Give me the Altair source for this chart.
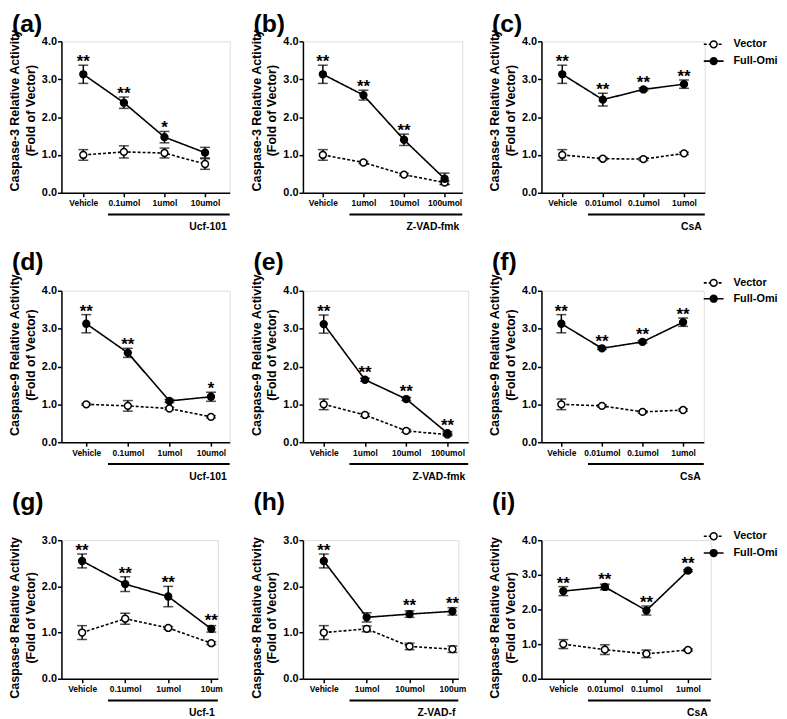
import altair as alt
import pandas as pd

SERIES = ["Vector", "Full-Omi"]
PANEL_LABELS = ["(a)", "(b)", "(c)", "(d)", "(e)", "(f)", "(g)", "(h)", "(i)"]
Y_TITLES = ["Caspase-3 Relative Activity", "Caspase-9 Relative Activity", "Caspase-8 Relative Activity"]
Y_SUB = "(Fold of Vector)"
DRUGS = ["Ucf-101", "Z-VAD-fmk", "CsA", "Ucf-101", "Z-VAD-fmk", "CsA", "Ucf-1", "Z-VAD-f", "CsA"]
Y_TICKS_4 = [0, 1, 2, 3, 4]
Y_TICKS_3 = [0, 1, 2, 3]

# (a) Caspase-3, Ucf-101
cats_a = ["Vehicle", "0.1umol", "1umol", "10umol"]
full_a = [3.13, 2.38, 1.47, 1.06]
full_err_a = [0.24, 0.15, 0.15, 0.14]
vec_a = [1.00, 1.08, 1.05, 0.76]
vec_err_a = [0.14, 0.16, 0.13, 0.14]
stars_a = ["**", "**", "*", ""]

# (b) Caspase-3, Z-VAD-fmk
cats_b = ["Vehicle", "1umol", "10umol", "100umol"]
full_b = [3.13, 2.58, 1.40, 0.37]
full_err_b = [0.24, 0.13, 0.15, 0.15]
vec_b = [1.00, 0.80, 0.48, 0.27]
vec_err_b = [0.14, 0.03, 0.03, 0.05]
stars_b = ["**", "**", "**", ""]

# (c) Caspase-3, CsA
cats_c = ["Vehicle", "0.01umol", "0.1umol", "1umol"]
full_c = [3.13, 2.46, 2.73, 2.87]
full_err_c = [0.24, 0.17, 0.04, 0.11]
vec_c = [1.00, 0.90, 0.89, 1.04]
vec_err_c = [0.14, 0.03, 0.04, 0.03]
stars_c = ["**", "**", "**", "**"]

# (d) Caspase-9, Ucf-101
cats_d = ["Vehicle", "0.1umol", "1umol", "10umol"]
full_d = [3.13, 2.36, 1.09, 1.20]
full_err_d = [0.24, 0.12, 0.04, 0.12]
vec_d = [1.00, 0.96, 0.89, 0.67]
vec_err_d = [0.02, 0.14, 0.03, 0.03]
stars_d = ["**", "**", "", "*"]

# (e) Caspase-9, Z-VAD-fmk
cats_e = ["Vehicle", "1umol", "10umol", "100umol"]
full_e = [3.12, 1.65, 1.14, 0.24]
full_err_e = [0.24, 0.04, 0.04, 0.04]
vec_e = [1.00, 0.72, 0.30, 0.20]
vec_err_e = [0.14, 0.04, 0.04, 0.03]
stars_e = ["**", "**", "**", "**"]

# (f) Caspase-9, CsA
cats_f = ["Vehicle", "0.01umol", "0.1umol", "1umol"]
full_f = [3.13, 2.48, 2.65, 3.17]
full_err_f = [0.24, 0.03, 0.03, 0.11]
vec_f = [1.00, 0.96, 0.80, 0.85]
vec_err_f = [0.14, 0.03, 0.03, 0.03]
stars_f = ["**", "**", "**", "**"]

# (g) Caspase-8, Ucf-1
cats_g = ["Vehicle", "0.1umol", "1umol", "10um"]
full_g = [2.55, 2.05, 1.78, 1.08]
full_err_g = [0.15, 0.16, 0.22, 0.07]
vec_g = [1.00, 1.30, 1.10, 0.77]
vec_err_g = [0.15, 0.12, 0.03, 0.03]
stars_g = ["**", "**", "**", "**"]

# (h) Caspase-8, Z-VAD-f
cats_h = ["Vehicle", "1umol", "10umol", "100um"]
full_h = [2.55, 1.33, 1.40, 1.46]
full_err_h = [0.15, 0.10, 0.07, 0.08]
vec_h = [1.00, 1.08, 0.70, 0.64]
vec_err_h = [0.15, 0.06, 0.07, 0.07]
stars_h = ["**", "", "**", "**"]

# (i) Caspase-8, CsA
cats_i = ["Vehicle", "0.01umol", "0.1umol", "1umol"]
full_i = [2.53, 2.65, 1.97, 3.12]
full_err_i = [0.13, 0.08, 0.13, 0.03]
vec_i = [1.00, 0.84, 0.72, 0.83]
vec_err_i = [0.13, 0.14, 0.11, 0.03]
stars_i = ["**", "**", "**", "**"]

PANEL_DATA = [
    (cats_a, full_a, full_err_a, vec_a, vec_err_a, stars_a),
    (cats_b, full_b, full_err_b, vec_b, vec_err_b, stars_b),
    (cats_c, full_c, full_err_c, vec_c, vec_err_c, stars_c),
    (cats_d, full_d, full_err_d, vec_d, vec_err_d, stars_d),
    (cats_e, full_e, full_err_e, vec_e, vec_err_e, stars_e),
    (cats_f, full_f, full_err_f, vec_f, vec_err_f, stars_f),
    (cats_g, full_g, full_err_g, vec_g, vec_err_g, stars_g),
    (cats_h, full_h, full_err_h, vec_h, vec_err_h, stars_h),
    (cats_i, full_i, full_err_i, vec_i, vec_err_i, stars_i),
]

# layout: width, height, point padding, point align, y max, y ticks
LAYOUT = [
    (170, 153, 0.573, 0.47, 4, Y_TICKS_4),
    (161, 153, 0.463, 0.53, 4, Y_TICKS_4),
    (165, 153, 0.512, 0.50, 4, Y_TICKS_4),
    (170, 153, 0.524, 0.57, 4, Y_TICKS_4),
    (167, 153, 0.504, 0.50, 4, Y_TICKS_4),
    (164, 153, 0.500, 0.49, 4, Y_TICKS_4),
    (158, 140, 0.316, 0.76, 3, Y_TICKS_3),
    (157, 140, 0.312, 0.78, 3, Y_TICKS_3),
    (171, 140, 0.536, 0.49, 4, Y_TICKS_4),
]
ROW_TITLE_SHIFT = [-7, -12, 8]
ROW_LABEL_TOP = [-29, -41, -50]
LEGEND_Y = {2: (3, 20), 5: (-8, 8), 8: (-4, 13)}

FONT = "Liberation Sans"
DOMAIN = ["Vector", "Full-Omi"]


def make_panel(idx):
    cats, full, full_err, vec, vec_err, stars = PANEL_DATA[idx]
    width, height, pad, align, ymax, yticks = LAYOUT[idx]
    row = idx // 3
    rows = []
    for i, c in enumerate(cats):
        rows.append(dict(cat=c, series="Vector", mean=vec[i],
                         lo=vec[i] - vec_err[i], hi=vec[i] + vec_err[i]))
        rows.append(dict(cat=c, series="Full-Omi", mean=full[i],
                         lo=full[i] - full_err[i], hi=full[i] + full_err[i]))
    df = pd.DataFrame(rows)
    star_rows = [dict(cat=c, ys=max(full[i] + full_err[i], full[i] + 0.1), s=stars[i])
                 for i, c in enumerate(cats) if stars[i]]
    sdf = pd.DataFrame(star_rows)

    xenc = alt.X("cat:N", sort=cats,
                 scale=alt.Scale(type="point", padding=pad, align=align),
                 axis=alt.Axis(title=None, labelAngle=0, labelFont=FONT,
                               labelFontSize=8.5, labelFontWeight="bold",
                               labelOverlap=False, labelPadding=2,
                               tickSize=4, tickWidth=1.5, tickColor="black",
                               domainColor="black", domainWidth=1.5,
                               labelColor="black", grid=False))
    yaxis = alt.Axis(title=[Y_TITLES[row], Y_SUB], values=yticks, format=".1f",
                     titleFont=FONT, titleFontSize=12.6, titleFontWeight="bold",
                     titleLineHeight=16, titlePadding=4, titleColor="black",
                     titleLimit=400, titleY=height / 2 + ROW_TITLE_SHIFT[row],
                     labelFont=FONT, labelFontSize=11, labelFontWeight="bold",
                     labelColor="black", labelPadding=1,
                     tickSize=4, tickWidth=1.5, tickColor="black",
                     domainColor="black", domainWidth=1.5, grid=False)
    yscale = alt.Scale(domain=[0, ymax], nice=False)

    base = alt.Chart(df)
    lines = base.mark_line(color="black", strokeWidth=1.6).encode(
        x=xenc, y=alt.Y("mean:Q", scale=yscale, axis=yaxis),
        detail="series:N",
        strokeDash=alt.StrokeDash("series:N", scale=alt.Scale(domain=DOMAIN, range=[[3, 2], [1, 0]]),
                                  legend=None))
    bars = base.mark_rule(color="black", strokeWidth=1.5).encode(
        x=xenc, y=alt.Y("lo:Q", scale=yscale, axis=yaxis), y2="hi:Q")
    cap_lo = base.mark_tick(color="black", size=10, thickness=1.5).encode(
        x=xenc, y=alt.Y("lo:Q", scale=yscale, axis=yaxis))
    cap_hi = base.mark_tick(color="black", size=10, thickness=1.5).encode(
        x=xenc, y=alt.Y("hi:Q", scale=yscale, axis=yaxis))
    pts = base.mark_point(filled=True, shape="circle", size=48, strokeWidth=1.5, opacity=1).encode(
        x=xenc, y=alt.Y("mean:Q", scale=yscale, axis=yaxis),
        fill=alt.Fill("series:N", scale=alt.Scale(domain=DOMAIN, range=["white", "black"]), legend=None),
        stroke=alt.value("black"))
    layers = [lines, bars, cap_lo, cap_hi, pts]
    if len(sdf):
        st = alt.Chart(sdf).mark_text(font=FONT, fontSize=17, fontWeight="bold",
                                      baseline="alphabetic", dy=2, color="black").encode(
            x=xenc, y=alt.Y("ys:Q", scale=yscale, axis=yaxis), text="s:N")
        layers.append(st)

    one = pd.DataFrame({"label": [PANEL_LABELS[idx]], "drug": [DRUGS[idx]]})
    lab = alt.Chart(one).mark_text(font=FONT, fontSize=25, fontWeight="bold", align="left",
                                   baseline="top", color="black").encode(
        x=alt.value(-50), y=alt.value(ROW_LABEL_TOP[row]), text="label:N")
    under = alt.Chart(one).mark_rule(color="black", strokeWidth=2).encode(
        x=alt.value(47), x2=alt.value(width), y=alt.value(height + 22))
    drug = alt.Chart(one).mark_text(font=FONT, fontSize=10.5, fontWeight="bold", align="right",
                                    baseline="middle", color="black").encode(
        x=alt.value(width - 3), y=alt.value(height + 35), text="drug:N")
    layers += [lab, under, drug]

    if idx in LEGEND_Y:
        for j, s in enumerate(SERIES):
            ly = LEGEND_Y[idx][j]
            ldf = pd.DataFrame({"series": [s]})
            dash = [3, 2] if s == "Vector" else [1, 0]
            lrule = alt.Chart(ldf).mark_rule(color="black", strokeWidth=1.6, strokeDash=dash).encode(
                x=alt.value(164), x2=alt.value(184), y=alt.value(ly))
            lpt = alt.Chart(ldf).mark_point(filled=True, shape="circle", size=48, strokeWidth=1.5,
                                            opacity=1, stroke="black",
                                            fill="white" if s == "Vector" else "black").encode(
                x=alt.value(174), y=alt.value(ly))
            ltx = alt.Chart(ldf).mark_text(font=FONT, fontSize=11, fontWeight="bold", align="left",
                                           baseline="middle", color="black").encode(
                x=alt.value(194), y=alt.value(ly), text="series:N")
            layers += [lrule, lpt, ltx]

    return alt.layer(*layers).properties(width=width, height=height)


charts = [make_panel(i) for i in range(9)]
chart = alt.concat(*charts, columns=3, spacing={"row": 99, "column": 74},
                   bounds="flush", align="each").properties(padding=0).configure_view(
    stroke=None).configure(font=FONT)

chart.save("out.html", embed_options={"renderer": "svg", "actions": False})
